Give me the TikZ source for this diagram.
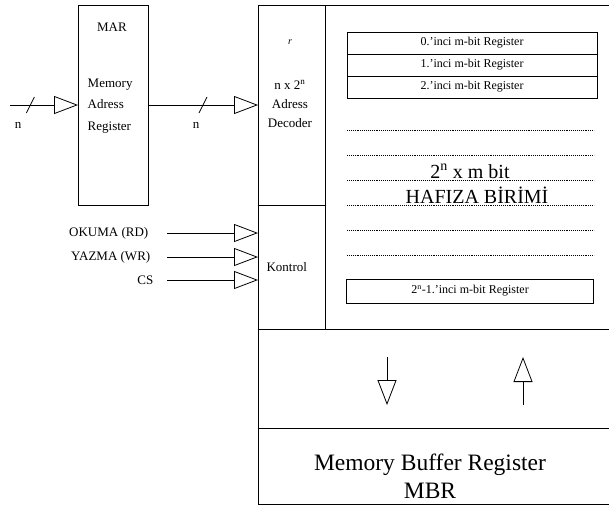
\documentclass[tikz,border=0pt]{standalone}
\usepackage{fontspec}
\setmainfont{Liberation Serif}
\usetikzlibrary{positioning,calc,arrows.meta}

\begin{document}
\begin{tikzpicture}[x=1pt, y=-1pt, line width=0.8pt, tri/.style={-{Triangle[open, length=24pt, width=18pt]}}, box/.style={draw, rectangle, inner sep=0pt, outer sep=0pt}, small/.style={font=\fontsize{13}{15}\selectfont}, reg/.style={box, minimum width=250pt, minimum height=22pt, font=\fontsize{12}{14}\selectfont}, dots/.style={line width=0.8pt, dash pattern=on 1pt off 0.9pt}, big/.style={font=\fontsize{20}{24}\selectfont}]

\useasboundingbox (0,0) rectangle (609,507);

% MAR
\node[box, minimum width=70pt, minimum height=200pt] (mar) at (113,105) {};
\node[small] (martitle) at (112,27) {MAR};
\node[align=left, anchor=west, font=\fontsize{13}{21.5}\selectfont] (marname) at (84,106) {Memory\\Adress\\Register};

\coordinate (nin) at (10,105);
\draw[tri] (nin) -- (mar.west);
\draw ($(nin)!0.3!(mar.west)$) +(-4,8) -- +(4,-8);
\node[small] (n1) at (18,125) {n};

% decoder and control
\node[box, minimum width=67pt, minimum height=200pt] (dec) at (291.5,105) {};
\node[font=\fontsize{10}{12}\selectfont\itshape] (decr) at (290,42) {r};
\node[align=center, font=\fontsize{13}{19}\selectfont] (dectext) at (290,104) {n x 2\textsuperscript{n}\\Adress\\Decoder};
\node[box, small, minimum width=67pt, minimum height=124pt, text width=50pt, align=left] (kon) at (291.5,267) {Kontrol};

\draw[tri] (mar.east) -- (dec.west);
\draw ($(mar.east)!0.5!(dec.west)$) +(-4,8) -- +(4,-8);
\node[small] (n2) at (196,125) {n};

\node[small, anchor=east] (okuma) at (152,233) {OKUMA (RD)};
\node[small, anchor=east] (yazma) at (154,257) {YAZMA (WR)};
\node[small, anchor=east] (cs) at (157,280) {CS};
\foreach \s in {okuma,yazma,cs}
  \draw[tri] ([xshift=10pt]\s.east -| cs.east) -- (\s.east -| kon.west);

% memory frame
\draw (dec.north east) -- (609,5);
\draw (kon.south west) -- (258,504) -- (609,504);
\draw (kon.south west) -- (609,329);
\draw (258,428) -- (609,428);

% registers
\node[reg] (reg0) at (472,43) {0.'inci m-bit Register};
\node[reg, below=0pt of reg0] (reg1) {1.'inci m-bit Register};
\node[reg, below=0pt of reg1] (reg2) {2.'inci m-bit Register};

\foreach \y in {130,155,180,205,230,255}
  \draw[dots] (347,\y) -- (594,\y);

\node[big, anchor=base] (size) at (470,178) {2\textsuperscript{n} x m bit};
\node[big, anchor=base] (hafiza) at (477,203) {HAFIZA BİRİMİ};

\node[reg, minimum width=247pt, minimum height=24pt] (regl) at (470,291) {2\textsuperscript{n}-1.'inci m-bit Register};

% data transfer
\coordinate (dtop) at (387,357);
\coordinate (dbot) at (387,405);
\coordinate (utop) at (523,357);
\coordinate (ubot) at (523,405);
\draw[-{Triangle[open, length=25pt, width=19pt]}] (dtop) -- (dbot);
\draw[-{Triangle[open, length=25pt, width=19pt]}] (ubot) -- (utop);

\node[align=center, font=\fontsize{23.5}{28}\selectfont] (mbr) at (430,476) {Memory Buffer Register\\MBR};
\end{tikzpicture}
\end{document}
